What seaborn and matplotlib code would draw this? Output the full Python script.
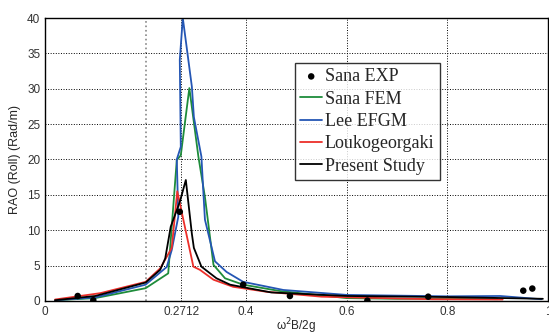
import pandas as pd
import matplotlib
matplotlib.use('Agg')
import matplotlib.pyplot as plt
import seaborn as sns

# estilo
sns.set_style("white")
plt.rcParams['font.family'] = ['Liberation Sans', 'DejaVu Sans']

# dados
exp_x = [0.065, 0.096, 0.268, 0.394, 0.487, 0.641, 0.762, 0.951, 0.969]
exp_y = [0.7, 0.1, 12.6, 2.3, 0.7, 0.05, 0.6, 1.45, 1.75]

fem_x = [0.02, 0.10, 0.20, 0.245, 0.262, 0.270, 0.287, 0.305, 0.318, 0.335, 0.358, 0.394, 0.467, 0.60, 0.70, 0.80, 0.90]
fem_y = [0.1, 0.4, 1.8, 3.9, 19.9, 20.6, 30.1, 20.4, 14.7, 5.1, 3.2, 2.3, 1.4, 0.4, 0.3, 0.3, 0.25]

efgm_x = [0.02, 0.10, 0.20, 0.242, 0.252, 0.265, 0.262, 0.270, 0.268, 0.274, 0.292, 0.296, 0.311, 0.315, 0.318, 0.338, 0.361, 0.394, 0.474, 0.60, 0.80, 0.905, 0.987]
efgm_y = [0.1, 0.5, 2.3, 4.8, 7.2, 11.9, 20.0, 21.8, 34.1, 40.0, 30.3, 26.0, 20.4, 15.2, 11.5, 5.6, 4.1, 2.7, 1.55, 0.85, 0.65, 0.7, 0.24]

louk_x = [0.02, 0.11, 0.20, 0.229, 0.252, 0.263, 0.295, 0.308, 0.335, 0.374, 0.44, 0.55, 0.77, 0.91]
louk_y = [0.2, 1.1, 2.7, 4.6, 7.5, 15.5, 4.85, 4.4, 3.0, 2.0, 1.3, 0.6, 0.24, 0.2]

pres_x = [0.02, 0.10, 0.20, 0.229, 0.239, 0.250, 0.268, 0.280, 0.292, 0.296, 0.311, 0.341, 0.368, 0.39, 0.45, 0.60, 0.80, 0.99]
pres_y = [0.1, 0.7, 2.6, 4.4, 6.0, 10.5, 14.0, 17.1, 9.5, 7.5, 4.85, 3.2, 2.3, 2.0, 1.2, 0.7, 0.55, 0.3]

xtick_vals = [0, 0.2, 0.2712, 0.4, 0.6, 0.8, 1]
xtick_labels = ['0', '', '0.2712', '0.4', '0.6', '0.8', '1']
ytick_vals = [0, 5, 10, 15, 20, 25, 30, 35, 40]

fig = plt.figure(figsize=(5.49, 3.34), dpi=100)
ax = fig.add_axes([0.082, 0.099, 0.916, 0.847])

lw = 1.3
sns.lineplot(x=fem_x, y=fem_y, sort=False, color='#1e8c3a', lw=lw, label='Sana FEM', ax=ax)
sns.lineplot(x=efgm_x, y=efgm_y, sort=False, color='#2456b4', lw=lw, label='Lee EFGM', ax=ax)
sns.lineplot(x=louk_x, y=louk_y, sort=False, color='#ec2f2a', lw=lw, label='Loukogeorgaki', ax=ax)
sns.lineplot(x=pres_x, y=pres_y, sort=False, color='black', lw=lw, label='Present Study', ax=ax)
sns.scatterplot(x=exp_x, y=exp_y, color='black', s=22, edgecolor='none', label='Sana EXP', ax=ax, zorder=5)

ax.set_xlim(0, 1)
ax.set_ylim(0, 40)
ax.set_xticks(xtick_vals)
ax.set_xticklabels(xtick_labels)
ax.set_yticks(ytick_vals)
ax.tick_params(direction='in', labelsize=8.5, length=3, colors='#333333', labelcolor='#333333')
ax.grid(True, color='black', linestyle=':', linewidth=0.7)
ax.get_xgridlines()[1].set_color('#888888')
ax.get_xgridlines()[1].set_linewidth(1.2)
for s in ax.spines.values():
    s.set_color('black')
    s.set_linewidth(1.0)

ax.set_xlabel('ω$^2$B/2g', fontsize=8.5, labelpad=-1)
ax.set_ylabel('RAO (Roll) (Rad/m)', fontsize=9, labelpad=4)

# legenda na ordem original
h, l = ax.get_legend_handles_labels()
order = [4, 0, 1, 2, 3]
leg = ax.legend([h[i] for i in order], [l[i] for i in order],
                loc='upper left', bbox_to_anchor=(0.497, 0.842),
                prop={'family': 'Liberation Serif', 'size': 13},
                frameon=True, fancybox=False, edgecolor='black',
                handlelength=1.2, handletextpad=0.15, borderpad=0.3,
                labelspacing=0.3, borderaxespad=0)
leg.get_frame().set_linewidth(1.0)

fig.savefig('out.png', dpi=100)
